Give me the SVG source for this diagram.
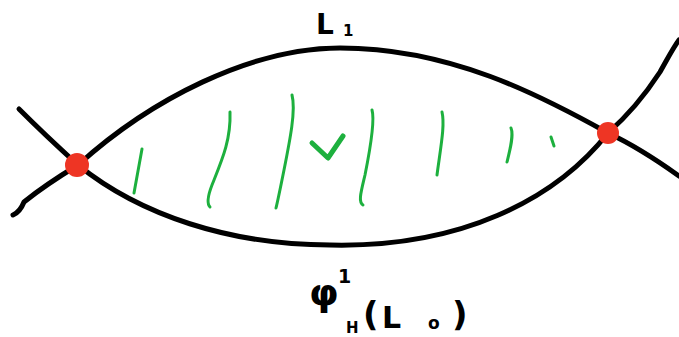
<svg xmlns="http://www.w3.org/2000/svg" width="679" height="337" viewBox="0 0 679 337">
<style>
.curve{fill:none;stroke:#000;stroke-width:5;stroke-linecap:round;stroke-linejoin:round}
.hatch{fill:none;stroke:#1db03e;stroke-width:3;stroke-linecap:round;stroke-linejoin:round}
.pt{fill:#ee3524}
.lbl{font-family:"DejaVu Sans",sans-serif;fill:#000;font-weight:bold}
</style>
<rect width="679" height="337" fill="#fff"/>
<g id="connectors">
<path id="L1" class="curve" d="M78,165 C150,100 250,48 340,48 C450,48 540,95 608,133 Q640,148 679,176"/>
<path id="L1-left" class="curve" d="M78,165 Q45,135 19,109"/>
<path id="phiL0" class="curve" d="M78,165 C140,215 230,245 330,245 C460,248 555,200 608,133"/>
<path id="phiL0-right" class="curve" d="M608,133 C625,118 645,95 660,72 C668,58 673,48 679,40"/>
<path id="phiL0-left" class="curve" d="M78,165 Q45,185 24,202 Q20,212 13,215"/>
</g>
<g id="region-V">
<path class="hatch" d="M142,149 L134,193"/>
<path class="hatch" d="M230,112 C231,140 222,160 212,185 C207,198 207,204 210,207"/>
<path class="hatch" d="M292,95 C296,110 290,140 284,170 C280,190 278,200 276,208"/>
<path class="hatch" d="M372,110 C375,120 370,150 365,175 C361,192 358,202 363,205"/>
<path class="hatch" d="M442,112 C445,125 441,145 437,175"/>
<path class="hatch" d="M511,128 C514,135 510,150 507,162"/>
<path class="hatch" d="M551,137 L554,146"/>
<path class="hatch" style="stroke-width:5" d="M312,143 L328,158 L343,136"/>
</g>
<g id="intersection-left"><circle class="pt" cx="77" cy="165" r="12"/></g>
<g id="intersection-right"><circle class="pt" cx="608" cy="133" r="11"/></g>
<g id="label-L1">
<text class="lbl" x="316" y="34" font-size="28">L</text>
<text class="lbl" x="343" y="36" font-size="15">1</text>
</g>
<g id="label-phi">
<text class="lbl" x="309" y="305" font-size="38">φ</text>
<text class="lbl" x="338" y="283" font-size="19">1</text>
<text class="lbl" x="346" y="333" font-size="15">H</text>
<text class="lbl" x="363" y="326" font-size="34">(</text>
<text class="lbl" x="382" y="328" font-size="30">L</text>
<text class="lbl" x="428" y="329" font-size="17">o</text>
<text class="lbl" x="452" y="326" font-size="34">)</text>
</g>
</svg>
